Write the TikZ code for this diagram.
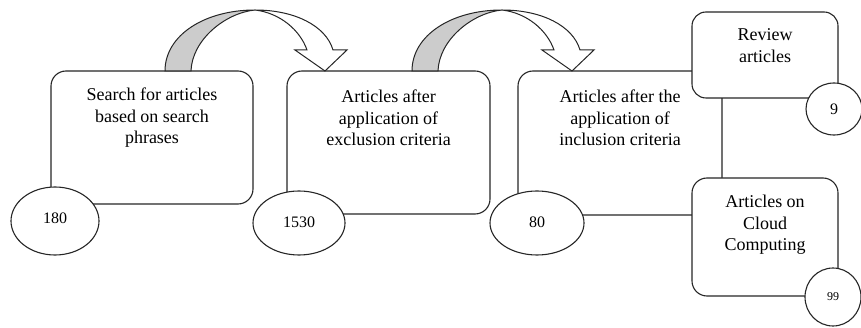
\documentclass[tikz,border=0pt]{standalone}
\usepackage{fontspec}
\setmainfont{Liberation Serif}
\usetikzlibrary{shapes.geometric}
\begin{document}
\begin{tikzpicture}[x=1pt,y=-1pt,
  box/.style={draw=black!85, line width=1.1pt, rounded corners=15pt, fill=white, inner sep=0pt},
  oval/.style={ellipse, draw=black!85, line width=1.1pt, fill=white, inner sep=0pt, font=\fontsize{16}{19}\selectfont},
  txt/.style={align=center, inner sep=0pt, font=\fontsize{18}{21.5}\selectfont},
  band/.style={draw=black!85, line width=1pt, fill=gray!40},
  head/.style={draw=black!85, line width=1pt, fill=white, line join=miter}]
\useasboundingbox (0,0) rectangle (861,328);
% boxes
\node[box, minimum width=202pt, minimum height=133pt] (b1) at (152,137.5) {};
\node[box, minimum width=203pt, minimum height=143pt] (b2) at (388.5,142.5) {};
\node[box, minimum width=204pt, minimum height=144pt] (b3) at (620,143) {};
\node[box, rounded corners=14pt, minimum width=146pt, minimum height=86pt] (rv) at (765,55) {};
\node[box, minimum width=146pt, minimum height=118pt] (cc) at (765,237) {};
% texts
\node[txt] (t1) at (152,118) {Search for articles\\based on search\\phrases};
\node[txt] (t2) at (388.5,118) {Articles after\\application of\\exclusion criteria};
\node[txt] (t3) at (620,118) {Articles after the\\application of\\inclusion criteria};
\node[txt] (trv) at (765,45.5) {Review\\articles};
\node[txt] (tcc) at (765,225) {Articles on\\Cloud\\Computing};
% ovals
\node[oval, minimum width=88pt, minimum height=68pt] (e180) at (55,221) {\raisebox{5pt}{180}};
\node[oval, minimum width=92pt, minimum height=64pt] (e1530) at (299,223) {\raisebox{2pt}{1530}};
\node[oval, minimum width=94pt, minimum height=64pt] (e80) at (537,223) {\raisebox{2pt}{80}};
\node[oval, minimum width=56pt, minimum height=52pt] (e9) at (834,109) {9};
\node[oval, minimum width=56pt, minimum height=58pt, font=\fontsize{12}{14}\selectfont] (e99) at (833,297) {99};
% curved block arrows
\foreach \dx in {0,247}{
  \begin{scope}[xshift=\dx pt]
    \path[band] (165,71) .. controls (165,35) and (205,10) .. (255,10)
       .. controls (225,13) and (192,40) .. (191,71) -- cycle;
    \path[head] (255,10) .. controls (295,10) and (326,26) .. (333,50)
       -- (347,50) -- (325,71) -- (295,50) -- (307,50)
       .. controls (300,30) and (280,13) .. (255,10) -- cycle;
  \end{scope}
}
\end{tikzpicture}
\end{document}
